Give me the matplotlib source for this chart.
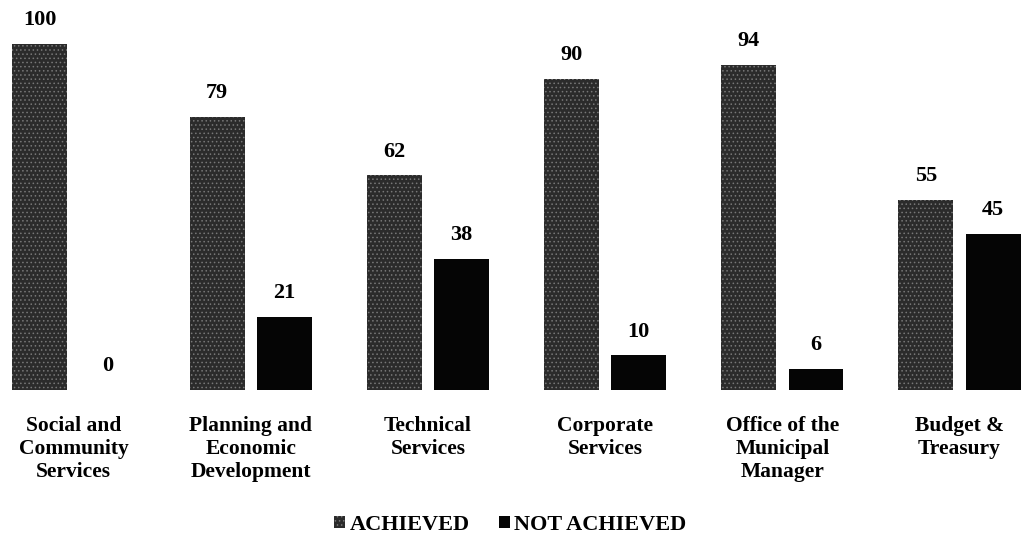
import numpy as np
import matplotlib
matplotlib.use('Agg')
from matplotlib import pyplot as plt

departments = ['Social and\nCommunity\nServices', 'Planning and\nEconomic\nDevelopment',
               'Technical\nServices', 'Corporate\nServices',
               'Office of the\nMunicipal\nManager', 'Budget &\nTreasury']
achieved = [100, 79, 62, 90, 94, 55]
not_achieved = [0, 21, 38, 10, 6, 45]

plt.rcParams['font.family'] = ['Liberation Serif', 'DejaVu Serif']
plt.rcParams['font.weight'] = 'bold'
plt.rcParams['hatch.linewidth'] = 0.6

fig = plt.figure(figsize=(10.21, 5.35), dpi=100)
ax = fig.add_axes([0, 145 / 535, 1, 346 / 535])

x = np.arange(len(departments))
w = 0.31
off = 0.19
b1 = ax.bar(x - off, achieved, w, color='#2b2b2b', hatch='....',
            edgecolor='#777777', linewidth=0, label='ACHIEVED')
b2 = ax.bar(x + off, not_achieved, w, color='#050505', linewidth=0,
            label='NOT ACHIEVED')
ax.bar_label(b1, padding=10, fontsize=16, fontweight='bold')
ax.bar_label(b2, padding=10, fontsize=16, fontweight='bold')

ax.set_xlim(-0.415, 5.347)
ax.set_ylim(0, 100)
ax.set_xticks(x)
ax.set_xticklabels(departments, fontsize=15.5, fontweight='bold', linespacing=1.2)
ax.tick_params(axis='x', length=0, pad=19)
ax.set_yticks([])
for s in ax.spines.values():
    s.set_visible(False)

fig.legend(loc='lower center', bbox_to_anchor=(0.5, -0.025), ncol=2, frameon=False,
           fontsize=16, handlelength=0.5, handleheight=0.5, handletextpad=0.2,
           columnspacing=1.3, borderaxespad=0.2)

fig.savefig('out.png', dpi=100)
